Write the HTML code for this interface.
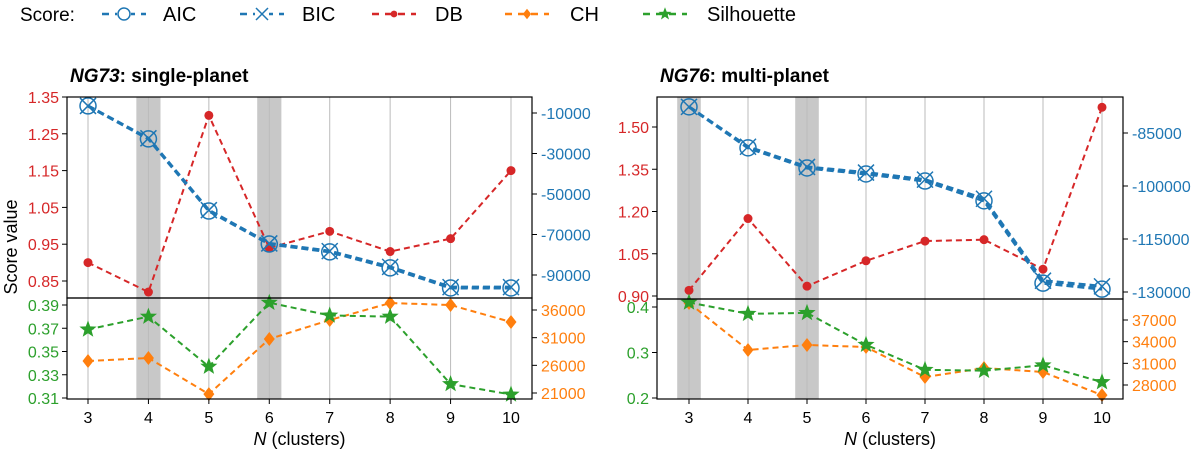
<!DOCTYPE html>
<html><head><meta charset="utf-8"><style>
body{margin:0;background:#fff;}
svg text{font-family:"Liberation Sans",sans-serif;}
</style></head><body>
<svg id="c" width="1200" height="451" xmlns="http://www.w3.org/2000/svg"></svg>
<script>
const categories=[3,4,5,6,7,8,9,10];
// Left panel (NG73)
const L_db=[0.90,0.82,1.30,0.94,0.985,0.93,0.965,1.15];
const L_aic=[-6500,-22800,-58400,-74700,-78600,-86500,-96400,-96400];
const L_bic=[-6500,-22500,-58000,-74400,-78200,-86000,-96000,-96000];
const L_sil=[0.369,0.380,0.337,0.392,0.381,0.380,0.322,0.313];
const L_ch=[26780,27330,20800,30760,34190,37260,36900,33830];
const L_dbTicks=[0.85,0.95,1.05,1.15,1.25,1.35];
const L_icTicks=[-90000,-70000,-50000,-30000,-10000];
const L_silTicks=[0.31,0.33,0.35,0.37,0.39];
const L_chTicks=[21000,26000,31000,36000];
const L_shade=[4,6];
// Right panel (NG76)
const R_db=[0.92,1.175,0.935,1.025,1.095,1.10,0.995,1.57];
const R_aic=[-77600,-89200,-94900,-96600,-98600,-104200,-127500,-129200];
const R_bic=[-77600,-88900,-94600,-96200,-98200,-103600,-126800,-128400];
const R_sil=[0.41,0.385,0.387,0.317,0.262,0.26,0.272,0.235];
const R_ch=[39350,32850,33540,33260,29100,30350,29800,26600];
const R_dbTicks=[0.90,1.05,1.20,1.35,1.50];
const R_icTicks=[-130000,-115000,-100000,-85000];
const R_silTicks=[0.2,0.3,0.4];
const R_chTicks=[28000,31000,34000,37000];
const R_shade=[3,5];

const NS="http://www.w3.org/2000/svg";
const svg=document.getElementById('c');
function mk(tag,attrs,parent,txt){const e=document.createElementNS(NS,tag);for(const k in attrs)e.setAttribute(k,attrs[k]);if(txt!==undefined)e.textContent=txt;(parent||svg).appendChild(e);return e;}
const BLUE="#1f77b4",RED="#d62728",ORANGE="#ff7f0e",GREEN="#2ca02c";
function lin(d0,d1,r0,r1){return v=>r0+(v-d0)*(r1-r0)/(d1-d0);}
function star(cx,cy,r){let p=[];for(let i=0;i<10;i++){const a=-Math.PI/2+i*Math.PI/5;const rr=i%2?r*0.42:r;p.push((cx+rr*Math.cos(a)).toFixed(1)+","+(cy+rr*Math.sin(a)).toFixed(1));}return p.join(" ");}
function marker(g,kind,x,y,col,s){
 s=s||1;
 if(kind==='aic'){mk('circle',{cx:x,cy:y,r:8*s,fill:'none',stroke:col,'stroke-width':1.5},g);}
 else if(kind==='bic'){const d=8*s;mk('path',{d:`M${x-d},${y-d}L${x+d},${y+d}M${x-d},${y+d}L${x+d},${y-d}`,stroke:col,'stroke-width':1.5},g);}
 else if(kind==='db'){mk('circle',{cx:x,cy:y,r:4.5*s,fill:col},g);}
 else if(kind==='ch'){mk('polygon',{points:`${x},${y-7*s} ${x+5.5*s},${y} ${x},${y+7*s} ${x-5.5*s},${y}`,fill:col},g);}
 else {mk('polygon',{points:star(x,y,9*s),fill:col},g);}
}
function series(name,vals,xs,ys,kind,col,w,dash){
 const g=mk('g',{});
 
 
 mk('polyline',{points:vals.map((v,i)=>xs(categories[i])+","+ys(v)).join(" "),fill:'none',stroke:col,'stroke-width':w,'stroke-dasharray':dash},g);
 vals.forEach((v,i)=>marker(g,kind,xs(categories[i]),ys(v),col));
}
function panel(o){
 const xs=lin(3,10,o.x3,o.x10);
 const step=(o.x10-o.x3)/7;
 const g=mk('g',{});
 
 
 o.shade.forEach(s=>{const r=mk('rect',{x:xs(s)-step*0.2,y:o.top,width:step*0.4,height:o.bot-o.top,fill:'#c8c8c8'},g);
  });
 categories.forEach(c=>mk('line',{x1:xs(c),x2:xs(c),y1:o.top,y2:o.bot,stroke:'#bbb','stroke-width':1},g));
 const yDb=lin(o.db[0],o.db[1],o.db[2],o.db[3]);
 const yIc=lin(o.ic[0],o.ic[1],o.ic[2],o.ic[3]);
 const ySil=lin(o.sil[0],o.sil[1],o.sil[2],o.sil[3]);
 const yCh=lin(o.ch[0],o.ch[1],o.ch[2],o.ch[3]);
 series('db-series',o.dbv,xs,yDb,'db',RED,2,'6,4');
 series('bic-series',o.bic,xs,yIc,'bic',BLUE,3,'7,4');
 series('aic-series',o.aic,xs,yIc,'aic',BLUE,3,'7,4');
 series('ch-series',o.chv,xs,yCh,'ch',ORANGE,2,'6,4');
 series('silhouette-series',o.silv,xs,ySil,'sil',GREEN,2,'6,4');
 mk('rect',{x:o.left,y:o.top,width:o.right-o.left,height:o.mid-o.top,fill:'none',stroke:'#000','stroke-width':1.2});
 mk('rect',{x:o.left,y:o.mid,width:o.right-o.left,height:o.bot-o.mid,fill:'none',stroke:'#000','stroke-width':1.2});
 const axL=(ticks,f,col,fmt,name)=>{const a=mk('g',{});
  ticks.forEach(t=>{const y=f(t);mk('line',{x1:o.left-5,x2:o.left,y1:y,y2:y,stroke:'#000'},a);mk('text',{x:o.left-8,y:y+6,'text-anchor':'end','font-size':16,fill:col},a,fmt(t));});};
 const axR=(ticks,f,col,name)=>{const a=mk('g',{});
  ticks.forEach(t=>{const y=f(t);mk('line',{x1:o.right,x2:o.right+5,y1:y,y2:y,stroke:'#000'},a);mk('text',{x:o.right+9,y:y+6,'font-size':16,fill:col},a,String(t));});};
 axL(o.dbTicks,yDb,RED,t=>t.toFixed(2),'db-axis');
 axR(o.icTicks,yIc,BLUE,'ic-axis');
 axL(o.silTicks,ySil,GREEN,o.silFmt,'silhouette-axis');
 axR(o.chTicks,yCh,ORANGE,'ch-axis');
 const xa=mk('g',{});
 categories.forEach(c=>{mk('line',{x1:xs(c),x2:xs(c),y1:o.bot,y2:o.bot+5,stroke:'#000'},xa);mk('text',{x:xs(c),y:o.bot+24,'text-anchor':'middle','font-size':16},xa,String(c));});
 const xt=mk('text',{x:(o.left+o.right)/2,y:o.bot+46,'text-anchor':'middle','font-size':18});
 
 mk('tspan',{'font-style':'italic'},xt,'N');mk('tspan',{},xt,' (clusters)');
 const tt=mk('text',{x:o.left+3,y:82,'font-size':19,'font-weight':'bold'});
 
 mk('tspan',{'font-style':'italic'},tt,o.tname);mk('tspan',{},tt,': '+o.tsub);
}
panel({name:'ng73-panel',tname:'NG73',tsub:'single-planet',left:67,right:532,top:97,mid:298,bot:399,x3:88,x10:511,
 db:[1.35,0.85,97,281],ic:[-10000,-90000,113,275],sil:[0.39,0.31,305,398],ch:[36000,21000,310,393],
 dbv:L_db,aic:L_aic,bic:L_bic,silv:L_sil,chv:L_ch,dbTicks:L_dbTicks,icTicks:L_icTicks,silTicks:L_silTicks,chTicks:L_chTicks,shade:L_shade,silFmt:t=>t.toFixed(2)});
panel({name:'ng76-panel',tname:'NG76',tsub:'multi-planet',left:657,right:1123,top:97,mid:299,bot:399,x3:689,x10:1102,
 db:[1.50,0.90,127,296],ic:[-85000,-130000,133,292],sil:[0.4,0.2,307,398],ch:[37000,28000,320,385],
 dbv:R_db,aic:R_aic,bic:R_bic,silv:R_sil,chv:R_ch,dbTicks:R_dbTicks,icTicks:R_icTicks,silTicks:R_silTicks,chTicks:R_chTicks,shade:R_shade,silFmt:t=>t.toFixed(1)});
const yl=mk('text',{x:0,y:0,transform:'translate(17,247) rotate(-90)','text-anchor':'middle','font-size':18},svg,'Score value');

// legend
const lg=mk('g',{});
mk('text',{x:20,y:21,'font-size':19},lg,'Score:');
const ents=[['AIC','aic',BLUE,102,163],['BIC','bic',BLUE,240,302],['DB','db',RED,372,435],['CH','ch',ORANGE,505,570],['Silhouette','sil',GREEN,643,707]];
ents.forEach(e=>{const eg=mk('g',{},lg);
 const xa=e[3];
 mk('line',{x1:xa,x2:xa+44,y1:14,y2:14,stroke:e[2],'stroke-width':2.5,'stroke-dasharray':'7,6'},eg);
 if(e[1]==='aic'||e[1]==='bic'){mk('rect',{x:xa+15,y:7,width:14,height:14,fill:'#fff'},eg);}
 marker(eg,e[1],xa+22,14,e[2],0.75);
 mk('text',{x:e[4],y:21,'font-size':20},eg,e[0]);});
</script>
</body></html>
